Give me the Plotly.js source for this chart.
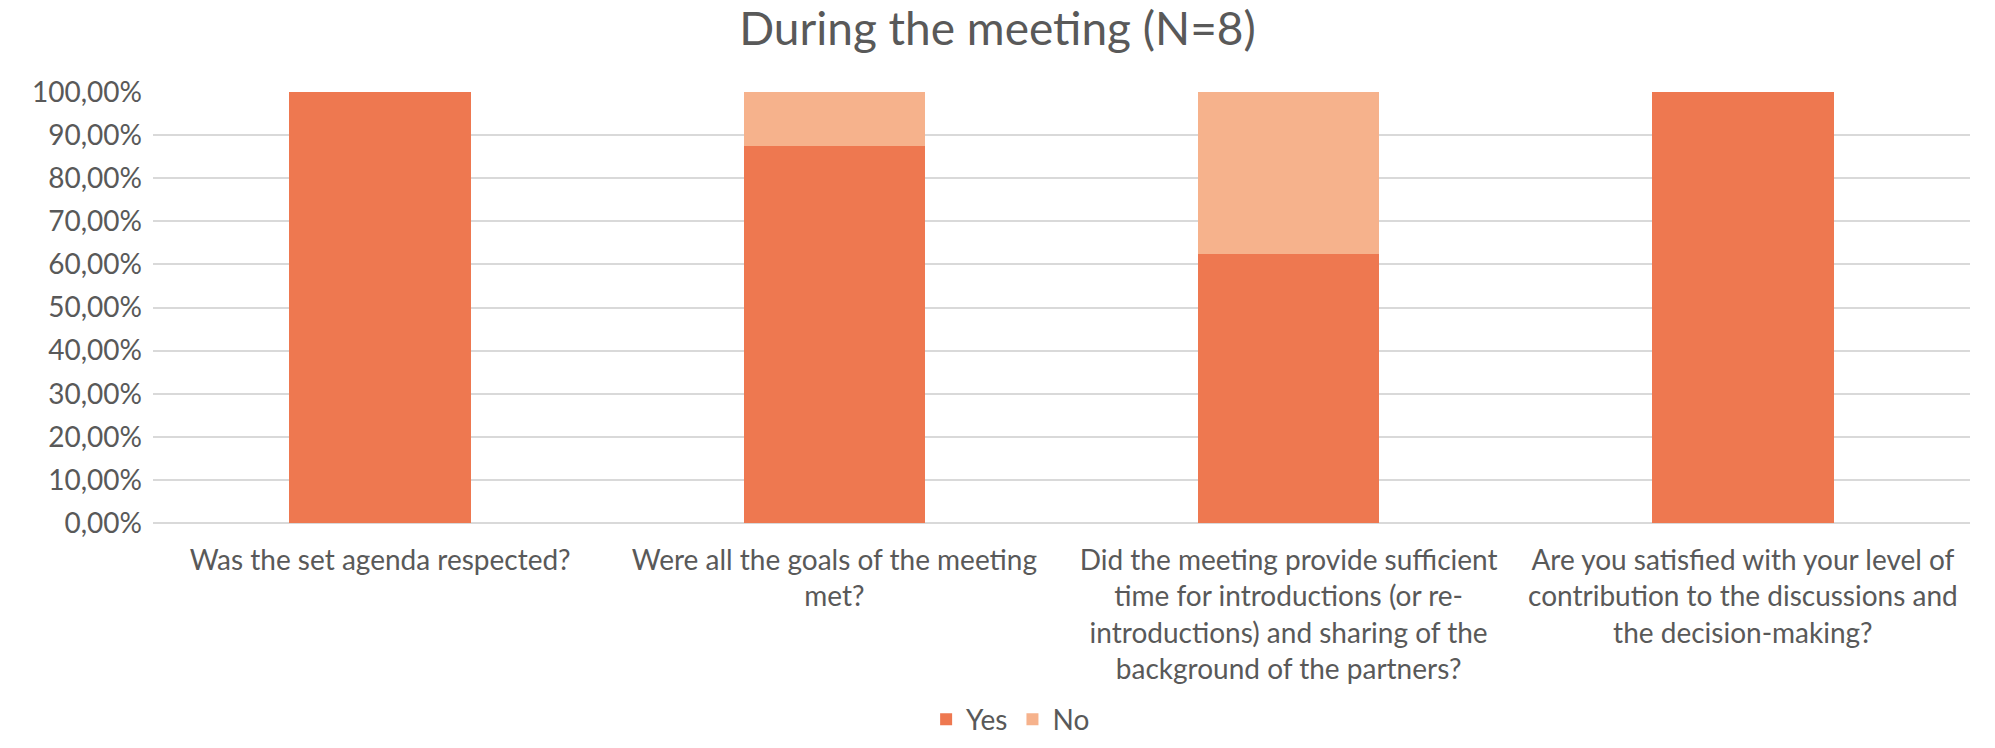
<!DOCTYPE html>
<html><head><meta charset="utf-8">
<script src="https://cdn.plot.ly/plotly-3.0.1.min.js"></script>
<style>html,body{margin:0;padding:0;background:#fff;}#chart{width:1995px;height:748px;}</style>
</head><body><div id="chart"></div>
<script>
const categories = [
  "Was the set agenda respected?",
  "Were all the goals of the meeting<br>met?",
  "Did the meeting provide sufficient<br>time for introductions (or re-<br>introductions) and sharing of the<br>background of the partners?",
  "Are you satisfied with your level of<br>contribution to the discussions and<br>the decision-making?"
];
const yesValues = [1.0, 0.875, 0.625, 1.0];
const noValues = [0.0, 0.125, 0.375, 0.0];
const yTicks = [0, 0.1, 0.2, 0.3, 0.4, 0.5, 0.6, 0.7, 0.8, 0.9, 1.0];

const font = "Lato, 'Open Sans', sans-serif";
const traces = [
  {type: 'bar', name: 'Yes', x: categories, y: yesValues, marker: {color: '#EE7850'}, width: 0.4},
  {type: 'bar', name: 'No', x: categories, y: noValues, marker: {color: '#F6B28C'}, width: 0.4}
];
const layout = {
  width: 1995, height: 748,
  barmode: 'stack',
  separators: ', ',
  paper_bgcolor: '#fff', plot_bgcolor: '#fff',
  margin: {l: 153, r: 25, t: 92, b: 225, autoexpand: false},
  font: {family: font, color: '#595959', size: 28},
  title: {text: 'During the meeting (N=8)', x: 0.5, xanchor: 'center', y: 0.962, yanchor: 'middle',
          font: {family: font, size: 46, color: '#595959'}},
  xaxis: {automargin: false, tickfont: {size: 28, color: '#595959'}, showgrid: false, showline: false, ticks: '', ticklabelstandoff: 18},
  yaxis: {automargin: false, range: [0, 1.0], tickvals: yTicks, tickformat: '.2%', showgrid: true, gridcolor: '#D9D9D9', gridwidth: 1.5,
          zeroline: true, zerolinecolor: '#D9D9D9', zerolinewidth: 1.5, showline: false, ticks: '',
          tickfont: {size: 28, color: '#595959'}, ticklabelstandoff: 10},
  legend: {orientation: 'h', traceorder: 'normal', x: 0.472, xanchor: 'center', yref: 'container', y: 0.038, yanchor: 'middle',
           itemwidth: 30, font: {size: 28, color: '#595959'}},
  showlegend: true
};
Plotly.newPlot('chart', traces, layout, {displayModeBar: false});
</script></body></html>
